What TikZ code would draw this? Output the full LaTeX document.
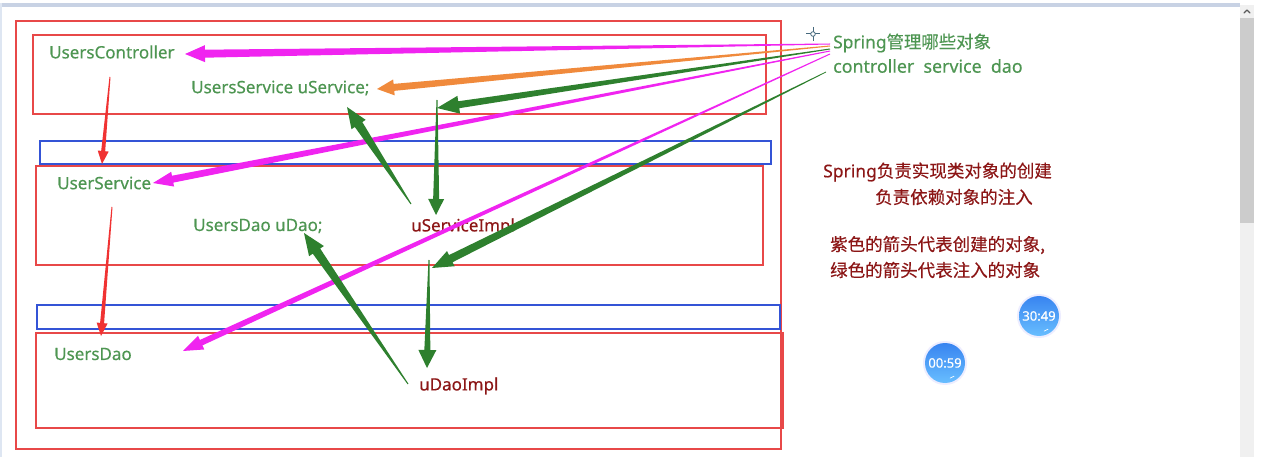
\documentclass[tikz,border=0pt]{standalone}
\usepackage{fontspec}
\setmainfont{Noto Sans}[FakeBold=0.35]
\newfontfamily\cjk{Noto Sans CJK SC}[FakeBold=0.3]
\usetikzlibrary{calc}
\definecolor{boxred}{RGB}{232,72,72}
\definecolor{boxblue}{RGB}{52,84,214}
\definecolor{txtgreen}{RGB}{78,150,82}
\definecolor{txtred}{RGB}{140,22,22}
\definecolor{mag}{RGB}{240,36,240}
\definecolor{orng}{RGB}{240,138,60}
\definecolor{dgreen}{RGB}{46,128,46}
\definecolor{arrred}{RGB}{240,50,50}
\definecolor{band}{RGB}{200,210,228}
\definecolor{edge}{RGB}{222,230,242}
\definecolor{tdark}{RGB}{56,132,240}
\definecolor{tlight}{RGB}{104,190,255}
\definecolor{cross}{RGB}{70,105,125}
\newcommand\taper[7]{%
  \coordinate (hb) at ($(#3)!#6!(#2)$);
  \fill[#1] ($(#2)!#4!90:(#3)$) -- ($(hb)!#5!90:(#3)$) -- ($(hb)!#7!90:(#3)$) -- (#3)
    -- ($(hb)!#7!-90:(#3)$) -- ($(hb)!#5!-90:(#3)$) -- ($(#2)!#4!-90:(#3)$) -- cycle;}
\tikzset{
  redbox/.style={draw=boxred, line width=2pt},
  bluebox/.style={draw=boxblue, line width=2pt},
  gtxt/.style={inner sep=0pt, anchor=west, text=txtgreen, font=\fontsize{17}{20}\selectfont},
  rtxt/.style={inner sep=0pt, anchor=west, text=txtred, font=\fontsize{17}{20}\selectfont},
  ctxt/.style={inner sep=0pt, anchor=west, text=txtred, font=\fontsize{17.5}{20}\selectfont},
  timer/.style={circle, minimum size=40pt, inner sep=0pt, text=white, font=\fontsize{13}{15}\selectfont}
}
\begin{document}
\begin{tikzpicture}[x=1pt, y=-1pt]
\useasboundingbox (0,0) rectangle (1267,457);
\fill[white] (0,0) rectangle (1267,457);
% window frame
\fill[band] (0,3) rectangle (1240,7);
\fill[edge] (0,3) rectangle (2,457);
\fill[black!6] (1240,5) rectangle (1254,457);
\fill[black!20] (1240,18) rectangle (1254,223);
\draw[black!65, line width=1.3pt, line cap=round, line join=round] (1244,13) -- (1247,10) -- (1250,13);
% boxes
\draw[redbox] (16,21) rectangle (781,449);
\draw[redbox] (33,35) rectangle (766,114);
\draw[bluebox] (40,141) rectangle (771,164);
\draw[redbox] (36,166) rectangle (763,265);
\draw[bluebox] (37,305) rectangle (780,329);
\draw[redbox] (36,333) rectangle (783,428);
% labels
\node[gtxt] (ctl) at (49,52) {UsersController};
\node[gtxt] (usvc) at (191,88) {UsersService uService;};
\node[gtxt] (svc) at (57,183) {UserService};
\node[gtxt] (udao) at (193,226) {UsersDao uDao;};
\node[rtxt] (simpl) at (411,227) {uServiceImpl};
\node[gtxt] (dao) at (54,354) {UsersDao};
\node[rtxt] (dimpl) at (419,386) {uDaoImpl};
\node[gtxt, font=\fontsize{17.4}{20}\selectfont] (t1) at (833,43) {Spring{\cjk 管理哪些对象}};
\node[gtxt, font=\fontsize{17.8}{20}\selectfont] (t2) at (833,66) {controller\ \ service\ \ dao};
\node[ctxt] (n1) at (823,172) {Spring{\cjk 负责实现类对象的创建}};
\node[ctxt] (n2) at (875,197) {\cjk 负责依赖对象的注入};
\node[ctxt] (n3) at (830,245) {\cjk 紫色的箭头代表创建的对象,};
\node[ctxt] (n4) at (830,270) {\cjk 绿色的箭头代表注入的对象};
% crosshair
\draw[cross, line width=1pt] (806,34) -- (820,34) (813,27) -- (813,41);
\draw[cross, fill=white, line width=0.8pt] (813,34) circle (2.3);
% timers
\foreach \nm/\cx/\cy/\lab in {tA/1039/316/30:49, tB/945/363/00:59}{
  \fill[blue!7!white] (\cx,\cy) circle (22);
  \shade[shading angle=135, top color=tdark, bottom color=tlight] (\cx,\cy) circle (20);
  \node[timer] (\nm) at (\cx,\cy) {\lab};
  \draw[white, line width=0.6pt] ($(\cx,\cy)+(72:16)$) arc (72:55:16);
}
% arrow end points
\coordinate (s1) at (830,44);
\coordinate (s2) at (830,46);
\coordinate (s3) at (830,49);
\coordinate (s4) at (830,51);
\coordinate (s5) at (830,54);
\coordinate (s6) at (826,72);
\coordinate (m1) at (185,54);
\coordinate (o1) at (377,89);
\coordinate (g1) at (437,108);
\coordinate (m2) at (153,183);
\coordinate (m3) at (183,351);
\coordinate (g2) at (432,268);
\coordinate (r1a) at (110,77);
\coordinate (r1b) at (102,164);
\coordinate (r2a) at (112,207);
\coordinate (r2b) at (101,336);
\coordinate (gAa) at (411,204);
\coordinate (gAb) at (347,107);
\coordinate (gV1a) at (437,100);
\coordinate (gV1b) at (436,215);
\coordinate (gBa) at (408,384);
\coordinate (gBb) at (304,233);
\coordinate (gV2a) at (429,260);
\coordinate (gV2b) at (427,368);
% arrows from Spring
\taper{mag}{s1}{m1}{0.5pt}{4pt}{20pt}{8.5pt}
\taper{orng}{s2}{o1}{0.5pt}{3.5pt}{17pt}{8pt}
\taper{dgreen}{s3}{g1}{0.5pt}{3.5pt}{22pt}{9pt}
\taper{mag}{s4}{m2}{0.5pt}{3.5pt}{20pt}{7.5pt}
\taper{mag}{s5}{m3}{0.5pt}{3pt}{20pt}{7.5pt}
\taper{dgreen}{s6}{g2}{0.4pt}{4pt}{21pt}{8.5pt}
% red arrows
\taper{arrred}{r1a}{r1b}{0.5pt}{2pt}{13pt}{5.5pt}
\taper{arrred}{r2a}{r2b}{0.5pt}{2pt}{13pt}{5.5pt}
% green injection arrows
\taper{dgreen}{gAa}{gAb}{0.5pt}{4.5pt}{21pt}{8.5pt}
\taper{dgreen}{gV1a}{gV1b}{0.5pt}{3pt}{16pt}{8pt}
\taper{dgreen}{gBa}{gBb}{0.5pt}{4.5pt}{22pt}{9pt}
\taper{dgreen}{gV2a}{gV2b}{0.5pt}{3pt}{18pt}{9pt}
\end{tikzpicture}
\end{document}
